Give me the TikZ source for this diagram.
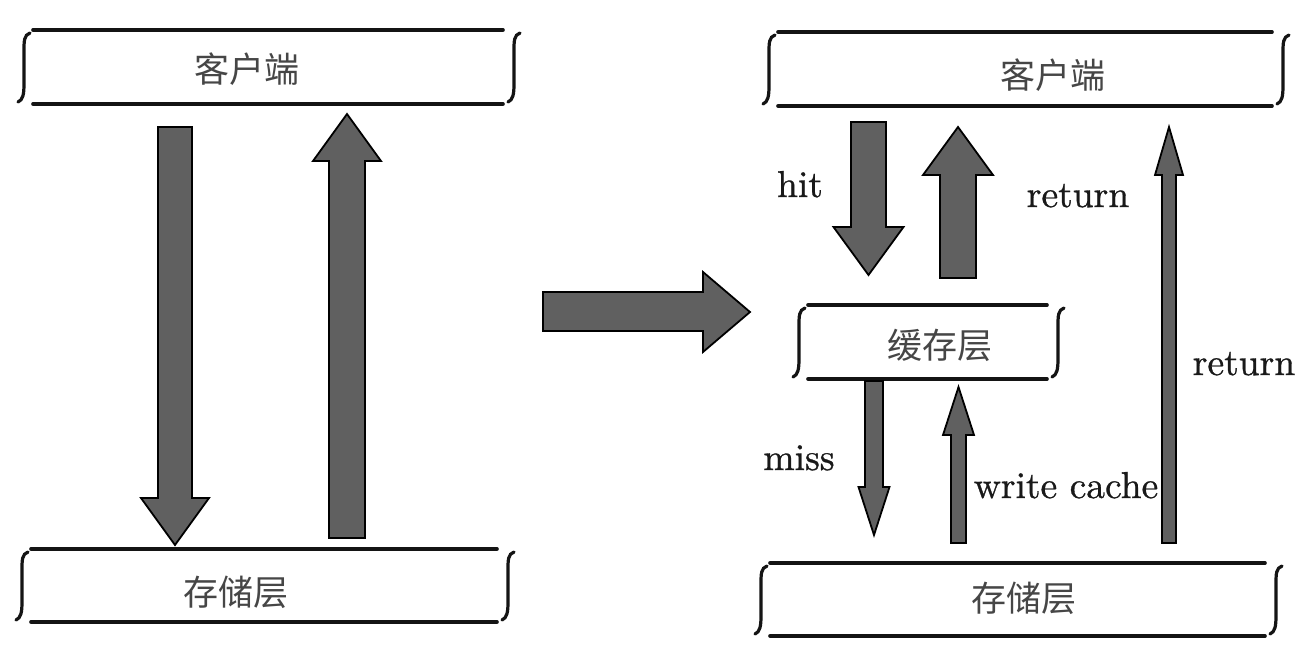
\documentclass[tikz,border=0pt]{standalone}
\usepackage{fontspec}
\newfontfamily\cjk{Noto Sans CJK SC}
\newfontfamily\enfont{lmroman10-regular.otf}[FakeBold=0.8]
\usetikzlibrary{calc}
\definecolor{arrowfill}{RGB}{96,96,96}
\definecolor{cjkgray}{RGB}{70,70,70}
\definecolor{inkline}{RGB}{20,20,20}
\tikzset{
  boxline/.style={line width=3.6pt, draw=inkline, line cap=round},
  bracestyle/.style={line width=3.2pt, draw=inkline, line cap=round},
  blockarrow/.style={fill=arrowfill, draw=black, line width=1.8pt, line join=miter},
  cjktext/.style={font=\cjk\fontsize{35}{40}\selectfont, text=cjkgray, inner sep=0pt},
  entext/.style={font=\enfont\fontsize{37.5}{42}\selectfont, text={rgb,255:red,25;green,25;blue,25}, inner sep=0pt, anchor=base},
}
% box: name, x left, x right, y top, y bottom
\newcommand\skbox[5]{%
  \coordinate (#1-nw) at (#2,#4);
  \coordinate (#1-ne) at (#3,#4);
  \coordinate (#1-sw) at (#2,#5);
  \coordinate (#1-se) at (#3,#5);
  \draw[boxline] (#1-nw) -- (#1-ne);
  \draw[boxline] (#1-sw) -- (#1-se);
  \skbrace{#2-9}{#4+3}{#5-2}
  \skbrace{#3+11}{#4+3}{#5-2}
}
% brace: center x, top y, bottom y
\newcommand\skbrace[3]{%
  \draw[bracestyle] ({#1+6},{#2}) .. controls ({#1},{#2+2}) and ({#1},{#2+8}) .. ({#1},{#2+18})
     -- ({#1},{#3-18}) .. controls ({#1},{#3-8}) and ({#1-1},{#3-2}) .. ({#1-6},{#3});
}
% vertical block arrow: x, tail y, head base y, tip y, shaft half, head half
\newcommand\varrow[6]{%
  \draw[blockarrow] ({#1-#5},{#2}) -- ({#1-#5},{#3}) -- ({#1-#6},{#3}) -- ({#1},{#4})
    -- ({#1+#6},{#3}) -- ({#1+#5},{#3}) -- ({#1+#5},{#2}) -- cycle;
}
\begin{document}
\begin{tikzpicture}[x=1pt,y=-1pt]
\useasboundingbox (0,0) rectangle (1304,654);
\fill[white] (0,0) rectangle (1304,654);

% left side
\skbox{lclient}{33}{503}{30}{104}
\skbox{lstore}{31}{497}{549}{622}
\node[cjktext] (lclienttext) at (247,69) {客户端};
\node[cjktext] (lstoretext) at (236,592) {存储层};
\varrow{175}{127}{498}{545}{17}{34}
\varrow{347}{538}{161}{114}{18}{34}

% middle arrow
\draw[blockarrow] (543,292) -- (703,292) -- (703,272) -- (750,312) -- (703,352) -- (703,331) -- (543,331) -- cycle;

% right side
\skbox{rclient}{778}{1272}{32}{106}
\skbox{cache}{808}{1047}{305}{379}
\skbox{rstore}{770}{1265}{563}{636}
\node[cjktext] (rclienttext) at (1053,75) {客户端};
\node[cjktext] (cachetext) at (940,345) {缓存层};
\node[cjktext] (rstoretext) at (1024,598) {存储层};

\varrow{868.5}{122}{227}{275}{17.5}{35}
\varrow{958}{278}{175}{127}{18}{35}
\varrow{874}{381}{487}{535}{9}{15.5}
\varrow{958.5}{543}{435}{387}{7.5}{15.5}
\varrow{1169}{543}{175}{127}{7}{14}

\node[entext] (hit) at (800,197) {hit};
\node[entext] (ret1) at (1078,207) {return};
\node[entext] (miss) at (799,470) {miss};
\node[entext] (wc) at (1066,498) {write cache};
\node[entext] (ret2) at (1244,375) {return};
\end{tikzpicture}
\end{document}
